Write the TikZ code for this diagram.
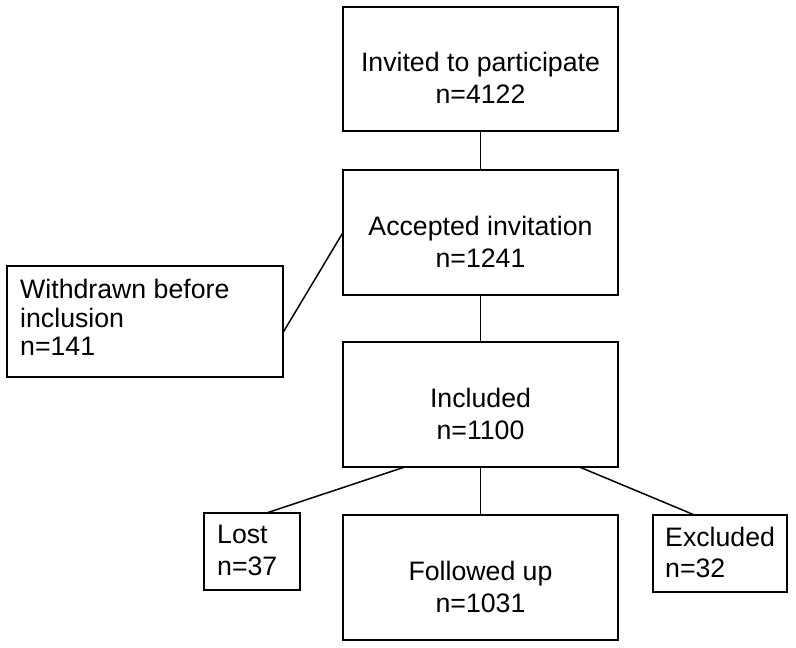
\documentclass[tikz,border=0pt]{standalone}
\usepackage{fontspec}
\setmainfont{Liberation Sans}
\usetikzlibrary{calc}
\begin{document}
\begin{tikzpicture}[x=1pt,y=-1pt,
  box/.style={draw, line width=1.5pt, inner sep=0pt, outer sep=0pt, rectangle},
  txt/.style={inner sep=0pt, font=\fontsize{26.7}{32}\selectfont},
  conn/.style={draw, line width=1.5pt}]
\fill[white] (0,0) rectangle (796,648);
\useasboundingbox (0,0) rectangle (796,648);
% boxes
\node[box, minimum width=275pt, minimum height=124pt] (inv) at (480.5,69) {};
\node[box, minimum width=275pt, minimum height=125pt] (acc) at (480.5,232.5) {};
\node[box, minimum width=275pt, minimum height=125pt] (inc) at (480.5,404.5) {};
\node[box, minimum width=275pt, minimum height=125pt] (fu) at (480.5,577.5) {};
\node[box, minimum width=276pt, minimum height=111pt] (wd) at (145,321.5) {};
\node[box, minimum width=96pt, minimum height=77pt] (lost) at (252,551.5) {};
\node[box, minimum width=134pt, minimum height=77pt] (exc) at (720,553.5) {};
% texts
\node[txt, align=center, anchor=north] (invT) at (480.5,52.4) {Invited to participate\\n=4122};
\node[txt, align=center, anchor=north] (accT) at (480.5,216.4) {Accepted invitation\\n=1241};
\node[txt, align=center, anchor=north] (incT) at (480.5,388.4) {Included\\n=1100};
\node[txt, align=center, anchor=north] (fuT) at (480.5,561.4) {Followed up\\n=1031};
\node[txt, align=left, anchor=north west, font=\fontsize{26.7}{28.5}\selectfont] (wdT) at (20,279) {Withdrawn before\\inclusion\\n=141};
\node[txt, align=left, anchor=north west] (lostT) at (217,525) {Lost\\n=37};
\node[txt, align=left, anchor=north west, font=\fontsize{26.7}{31}\selectfont] (excT) at (665,527) {Excluded\\n=32};
% connectors
\draw[conn] (inv.south) -- (acc.north);
\draw[conn] (acc.west) -- ($(wd.south east)!0.4!(wd.north east)$);
\draw[conn] (acc.south) -- (inc.north);
\draw[conn] ($(inc.south west)!0.225!(inc.south east)$) -- ($(lost.north west)!0.65!(lost.north east)$);
\draw[conn] (inc.south) -- (fu.north);
\draw[conn] ($(inc.south west)!0.86!(inc.south east)$) -- ($(exc.north west)!0.31!(exc.north east)$);
\end{tikzpicture}
\end{document}
